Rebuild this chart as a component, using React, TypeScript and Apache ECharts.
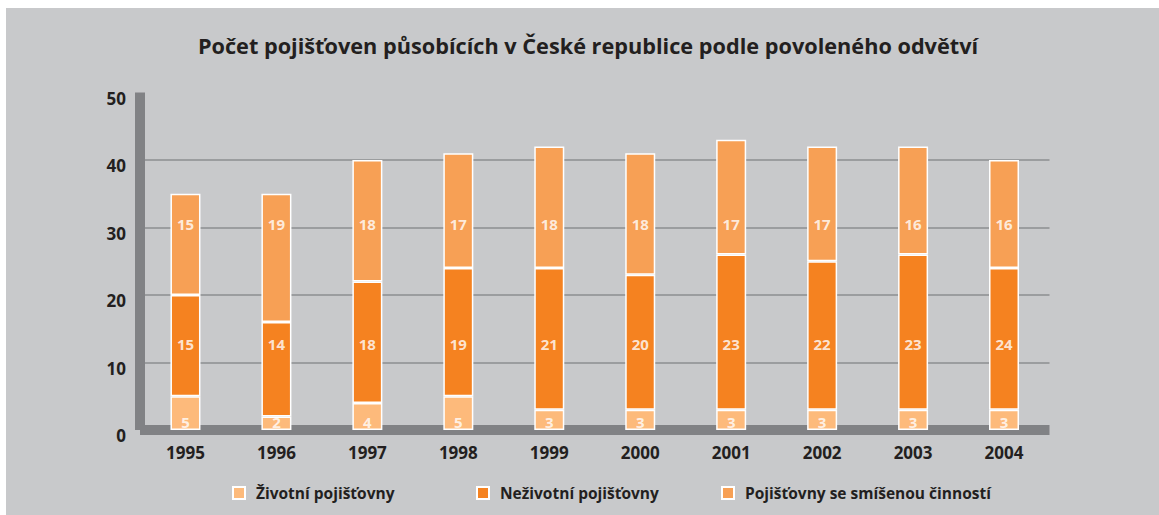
import React, { useEffect, useRef } from "react";
import * as echarts from "echarts";

const TITLE = "Počet pojišťoven působících v České republice podle povoleného odvětví";
const years = ["1995", "1996", "1997", "1998", "1999", "2000", "2001", "2002", "2003", "2004"];
const seriesNames = ["Životní pojišťovny", "Neživotní pojišťovny", "Pojišťovny se smíšenou činností"];

// heights of the drawn segments
const zivotni = [5, 2, 4, 5, 3, 3, 3, 3, 3, 3];
const nezivotni = [15, 14, 18, 19, 21, 20, 23, 22, 23, 21];
const smisene = [15, 19, 18, 17, 18, 18, 17, 17, 16, 16];

// numbers printed on the segments
const zivotniLabels = [5, 2, 4, 5, 3, 3, 3, 3, 3, 3];
const nezivotniLabels = [15, 14, 18, 19, 21, 20, 23, 22, 23, 24];
const smiseneLabels = [15, 19, 18, 17, 18, 18, 17, 17, 16, 16];

// value levels at which the printed numbers sit
const LEVEL_ZIVOTNI = 1.2;
const LEVEL_NEZIVOTNI = 12.7;
const LEVEL_SMISENE = 30.5;

const yTicks = { min: 0, max: 50, interval: 10 };

const COLORS = ["#fdba7b", "#f58220", "#f7a055"];
const BG = "#c8c9cb";
const AXIS = "#818285";
const GRID = "#8d8e90";
const TEXT = "#231f20";
const FONT = "'Open Sans', sans-serif";

export default function App() {
  const ref = useRef<HTMLDivElement>(null);

  useEffect(() => {
    document.body.style.margin = "0";
    const chart = echarts.init(ref.current!, undefined, { renderer: "svg" });

    const labelSeries = (name: string, labels: number[], level: number) => ({
      name,
      type: "scatter",
      symbolSize: 0,
      silent: true,
      z: 5,
      data: labels.map((v, i) => ({ value: [i, level], label: { formatter: String(v) } })),
      label: {
        show: true,
        position: "inside",
        color: "#ffffff",
        fontFamily: FONT,
        fontWeight: "bold",
        fontSize: 15,
      },
    });

    const barSeries = (name: string, data: number[], color: string) => ({
      name,
      type: "bar",
      stack: "total",
      barWidth: 30,
      data,
      itemStyle: { color, borderColor: "#ffffff", borderWidth: 1.5 },
    });

    const legend = (name: string, left: number) => ({
      data: [name],
      left,
      top: 485,
      padding: 0,
      itemWidth: 12,
      itemHeight: 12,
      icon: "rect",
      selectedMode: false,
      textStyle: {
        color: TEXT,
        fontFamily: FONT,
        fontWeight: "bold",
        fontSize: 15.5,
        padding: [0, 0, 0, 6],
      },
    });

    chart.setOption({
      animation: false,
      backgroundColor: "#ffffff",
      graphic: [
        {
          type: "rect",
          z: -10,
          silent: true,
          shape: { x: 6, y: 8, width: 1153, height: 507 },
          style: { fill: BG },
        },
      ],
      title: {
        text: TITLE,
        left: 583,
        top: 29,
        textAlign: "center",
        textStyle: { color: TEXT, fontFamily: FONT, fontWeight: "bold", fontSize: 21.7 },
      },
      legend: [
        legend(seriesNames[0], 232),
        legend(seriesNames[1], 476),
        legend(seriesNames[2], 721),
      ],
      grid: { left: 140, right: 109.5, top: 92.5, bottom: 85, containLabel: false },
      xAxis: {
        type: "category",
        data: years,
        axisLine: { show: true, lineStyle: { color: AXIS, width: 10, cap: "butt" } },
        axisTick: { show: false },
        axisLabel: { color: TEXT, fontFamily: FONT, fontWeight: "bold", fontSize: 17, margin: 14 },
      },
      yAxis: {
        type: "value",
        min: yTicks.min,
        max: yTicks.max,
        interval: yTicks.interval,
        axisLine: { show: true, lineStyle: { color: AXIS, width: 10, cap: "butt" } },
        axisTick: { show: false },
        axisLabel: {
          color: TEXT,
          fontFamily: FONT,
          fontWeight: "bold",
          fontSize: 17,
          margin: 14,
          verticalAlign: "top",
          lineHeight: 11,
        },
        splitLine: { show: true, showMinLine: false, showMaxLine: false, lineStyle: { color: GRID, width: 1.5 } },
      },
      series: [
        barSeries(seriesNames[0], zivotni, COLORS[0]),
        barSeries(seriesNames[1], nezivotni, COLORS[1]),
        barSeries(seriesNames[2], smisene, COLORS[2]),
        labelSeries("lbl-zivotni", zivotniLabels, LEVEL_ZIVOTNI),
        labelSeries("lbl-nezivotni", nezivotniLabels, LEVEL_NEZIVOTNI),
        labelSeries("lbl-smisene", smiseneLabels, LEVEL_SMISENE),
      ],
    });

    return () => chart.dispose();
  }, []);

  return <div ref={ref} style={{ width: 1159, height: 515 }} />;
}
